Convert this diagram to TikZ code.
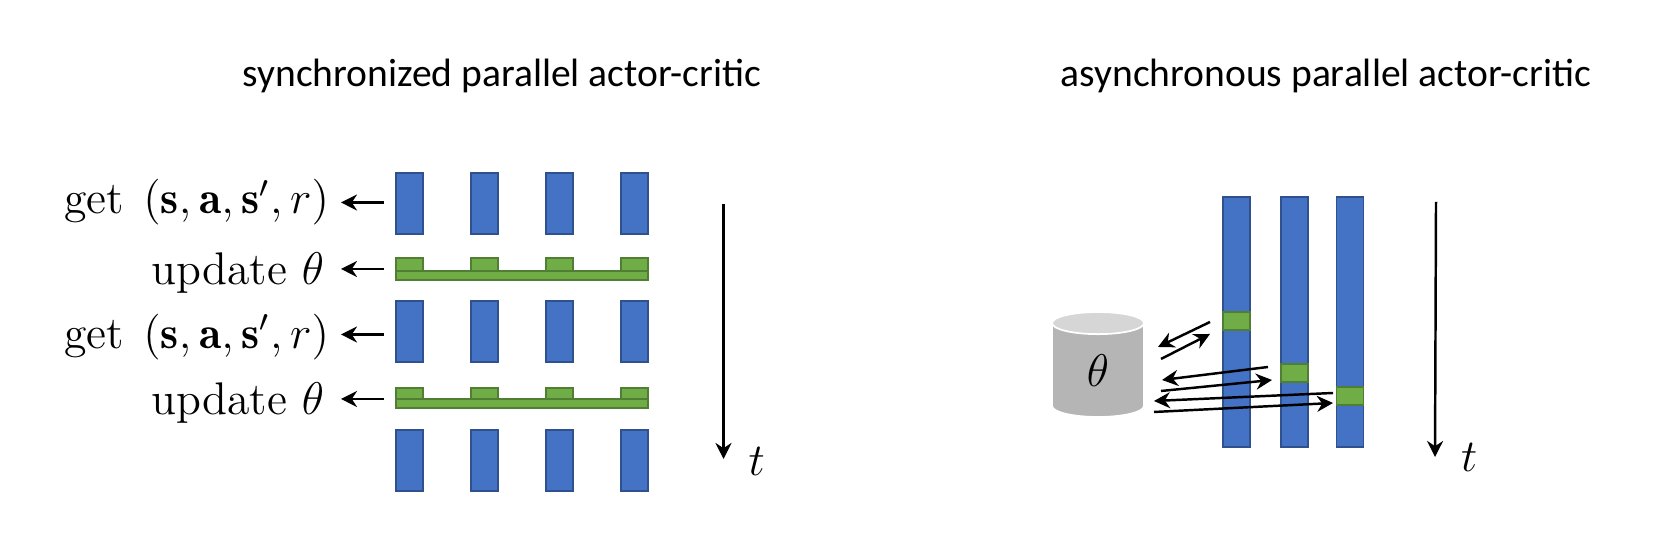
\documentclass[tikz,border=0pt]{standalone}
\usepackage{fontspec}
\newfontfamily\titlefont{Carlito}
\usetikzlibrary{shapes.geometric, arrows.meta, positioning}
\definecolor{barblue}{HTML}{4472C4}
\definecolor{baredge}{HTML}{2F528F}
\definecolor{updgreen}{HTML}{70AD47}
\definecolor{updedge}{HTML}{507E32}

\begin{document}
\begin{tikzpicture}
    \tikzset{
      bluebar/.style={rectangle, draw=baredge, fill=barblue, line width=0.3pt,
        minimum width=0.27cm, minimum height=0.61cm, inner sep=0pt, outer sep=0pt},
      longbar/.style={bluebar, minimum width=0.27cm, minimum height=2.5cm},
      tab/.style={rectangle, draw=updedge, fill=updgreen, line width=0.3pt,
        minimum width=0.27cm, minimum height=0.13cm, inner sep=0pt, outer sep=0pt},
      strip/.style={tab, minimum width=2.52cm, minimum height=0.09cm, anchor=north west},
      slice/.style={tab, minimum width=0.27cm, minimum height=0.18cm},
      lbl/.style={inner sep=0pt, outer sep=0pt, font=\large, scale=1.085},
      titletext/.style={inner sep=0pt, font=\titlefont\fontsize{11.25}{14}\selectfont},
      arrow/.style={line width=0.7pt, -{Stealth[length=0.16cm,width=0.16cm]}},
      rowarrow/.style={arrow, shorten >=0.12cm, shorten <=0.125cm}
    }
    \useasboundingbox (0,0) rectangle (16.66,5.41);

    \node[titletext] (lefttitle) at (5.02,4.65) {synchronized parallel actor-critic};
    \node[titletext] (righttitle) at (13.26,4.65) {asynchronous parallel actor-critic};

    % left blocks
    \node[bluebar] (a1) at (4.095,3.375) {};
    \node[bluebar, right=0.48cm of a1] (a2) {};
    \node[bluebar, right=0.48cm of a2] (a3) {};
    \node[bluebar, right=0.48cm of a3] (a4) {};
    \node[tab, below=0.24cm of a1] (u1) {};
    \node[tab, below=0.24cm of a2] (u2) {};
    \node[tab, below=0.24cm of a3] (u3) {};
    \node[tab, below=0.24cm of a4] (u4) {};
    \node[strip] (s1) at (u1.south west) {};
    \node[bluebar, below=0.67cm of a1] (b1) {};
    \node[bluebar, below=0.67cm of a2] (b2) {};
    \node[bluebar, below=0.67cm of a3] (b3) {};
    \node[bluebar, below=0.67cm of a4] (b4) {};
    \node[tab, below=0.26cm of b1, minimum height=0.11cm] (v1) {};
    \node[tab, below=0.26cm of b2, minimum height=0.11cm] (v2) {};
    \node[tab, below=0.26cm of b3, minimum height=0.11cm] (v3) {};
    \node[tab, below=0.26cm of b4, minimum height=0.11cm] (v4) {};
    \node[strip] (s2) at (v1.south west) {};
    \node[bluebar, below=0.68cm of b1] (c1) {};
    \node[bluebar, below=0.68cm of b2] (c2) {};
    \node[bluebar, below=0.68cm of b3] (c3) {};
    \node[bluebar, below=0.68cm of b4] (c4) {};

    % left labels
    \coordinate (p1) at ([yshift=0.01cm]a1.west);
    \coordinate (p2) at ([yshift=0.02cm]u1.south west);
    \coordinate (p3) at ([yshift=-0.03cm]b1.west);
    \coordinate (p4) at (v1.south west);
    \node[lbl, left=0.67cm of p1] (getone) {get\hspace{0.1em} $(\mathbf{s},\mathbf{a},\mathbf{s}',r)$};
    \node[lbl, left=0.72cm of p2, yshift=-0.04cm] (updone) {update $\theta$};
    \node[lbl, left=0.67cm of p3, yshift=-0.02cm] (gettwo) {get\hspace{0.1em} $(\mathbf{s},\mathbf{a},\mathbf{s}',r)$};
    \node[lbl, left=0.72cm of p4, yshift=-0.04cm] (updtwo) {update $\theta$};
    \draw[rowarrow] (p1) -- (p1 -| getone.east);
    \draw[rowarrow] (p2) -- (p2 -| getone.east);
    \draw[rowarrow] (p3) -- (p3 -| getone.east);
    \draw[rowarrow] (p4) -- (p4 -| getone.east);

    \coordinate (timea) at (7.235,3.37);
    \coordinate (timeb) at (7.235,0.82);
    \draw[arrow] (timea) -- (timeb);
    \node[lbl, right=0.25cm of timeb, yshift=-0.02cm] (tleft) {$t$};

    % right workers
    \node[longbar] (w1) at (12.365,2.19) {};
    \node[longbar, right=0.31cm of w1] (w2) {};
    \node[longbar, right=0.285cm of w2] (w3) {};
    \node[slice, below=1.15cm of w1.north] (g1) {};
    \node[slice, below=1.67cm of w2.north] (g2) {};
    \node[slice, below=1.90cm of w3.north] (g3) {};

    \node[cylinder, shape border rotate=90, aspect=1.0, draw=white, line width=0.5pt,
      cylinder uses custom fill, cylinder body fill=black!29, cylinder end fill=black!16,
      minimum width=0.92cm, minimum height=1.05cm, inner sep=0pt, outer sep=0pt, font=\large]
      (params) at (10.98,1.705) {\scalebox{1.085}{$\theta$}};

    \coordinate (r1a) at (12.10,2.19);
    \coordinate (r1b) at (11.58,1.94);
    \coordinate (r2a) at (11.61,1.82);
    \coordinate (r2b) at (12.10,2.07);
    \coordinate (r3a) at (12.68,1.74);
    \coordinate (r3b) at (11.62,1.61);
    \coordinate (r4a) at (11.61,1.50);
    \coordinate (r4b) at (12.72,1.61);
    \coordinate (r5a) at (13.33,1.48);
    \coordinate (r5b) at (11.54,1.40);
    \coordinate (r6a) at (11.54,1.29);
    \coordinate (r6b) at (13.33,1.38);
    \draw[arrow] (r1a) -- (r1b);
    \draw[arrow] (r2a) -- (r2b);
    \draw[arrow] (r3a) -- (r3b);
    \draw[arrow] (r4a) -- (r4b);
    \draw[arrow] (r5a) -- (r5b);
    \draw[arrow] (r6a) -- (r6b);

    \coordinate (timec) at (14.36,3.39);
    \coordinate (timed) at (14.35,0.84);
    \draw[arrow] (timec) -- (timed);
    \node[lbl, right=0.26cm of timed] (tright) {$t$};
  \end{tikzpicture}
\end{document}
